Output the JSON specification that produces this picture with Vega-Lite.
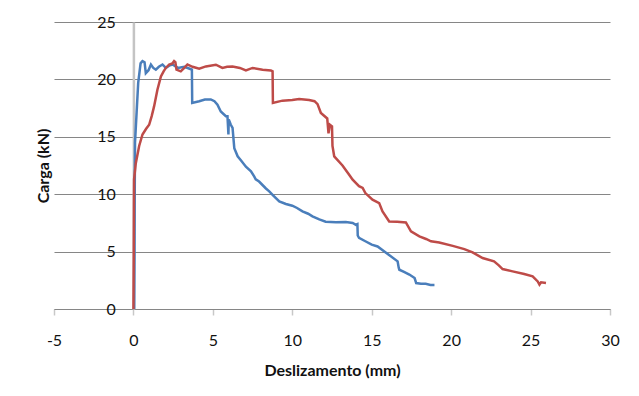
{
  "$schema": "https://vega.github.io/schema/vega-lite/v6.json",
  "width": 556,
  "height": 287,
  "autosize": "none",
  "padding": {"left": 54, "top": 22, "right": 29, "bottom": 87},
  "background": "white",
  "config": {
    "view": {"stroke": null},
    "font": "Lato"
  },
  "data": {"values": [
    {"s":"A","i":0,"x":0.05,"y":0},{"s":"A","i":1,"x":0.07,"y":5},{"s":"A","i":2,"x":0.08,"y":9.5},{"s":"A","i":3,"x":0.1,"y":14.5},{"s":"A","i":4,"x":0.3,"y":19.7},{"s":"A","i":5,"x":0.45,"y":21.4},{"s":"A","i":6,"x":0.57,"y":21.6},{"s":"A","i":7,"x":0.7,"y":21.5},{"s":"A","i":8,"x":0.78,"y":20.55},{"s":"A","i":9,"x":0.95,"y":20.8},{"s":"A","i":10,"x":1.1,"y":21.3},{"s":"A","i":11,"x":1.25,"y":21.0},{"s":"A","i":12,"x":1.41,"y":20.85},{"s":"A","i":13,"x":1.6,"y":21.1},{"s":"A","i":14,"x":1.83,"y":21.3},{"s":"A","i":15,"x":2.04,"y":21.0},{"s":"A","i":16,"x":2.25,"y":21.2},{"s":"A","i":17,"x":2.46,"y":21.3},{"s":"A","i":18,"x":2.8,"y":21.0},{"s":"A","i":19,"x":3.2,"y":21.1},{"s":"A","i":20,"x":3.5,"y":20.95},{"s":"A","i":21,"x":3.68,"y":20.85},{"s":"A","i":22,"x":3.7,"y":17.95},{"s":"A","i":23,"x":4.14,"y":18.1},{"s":"A","i":24,"x":4.5,"y":18.25},{"s":"A","i":25,"x":4.87,"y":18.25},{"s":"A","i":26,"x":5.1,"y":18.1},{"s":"A","i":27,"x":5.29,"y":17.8},{"s":"A","i":28,"x":5.5,"y":17.2},{"s":"A","i":29,"x":5.82,"y":16.8},{"s":"A","i":30,"x":5.92,"y":16.8},{"s":"A","i":31,"x":5.98,"y":15.2},{"s":"A","i":32,"x":6.0,"y":16.5},{"s":"A","i":33,"x":6.13,"y":16.05},{"s":"A","i":34,"x":6.24,"y":15.77},{"s":"A","i":35,"x":6.35,"y":14.0},{"s":"A","i":36,"x":6.56,"y":13.3},{"s":"A","i":37,"x":6.8,"y":12.9},{"s":"A","i":38,"x":7.08,"y":12.4},{"s":"A","i":39,"x":7.4,"y":12.0},{"s":"A","i":40,"x":7.6,"y":11.55},{"s":"A","i":41,"x":7.7,"y":11.3},{"s":"A","i":42,"x":7.91,"y":11.1},{"s":"A","i":43,"x":8.34,"y":10.5},{"s":"A","i":44,"x":8.55,"y":10.25},{"s":"A","i":45,"x":8.76,"y":9.95},{"s":"A","i":46,"x":9.18,"y":9.37},{"s":"A","i":47,"x":9.6,"y":9.15},{"s":"A","i":48,"x":10.0,"y":9.0},{"s":"A","i":49,"x":10.3,"y":8.8},{"s":"A","i":50,"x":10.64,"y":8.5},{"s":"A","i":51,"x":11.0,"y":8.3},{"s":"A","i":52,"x":11.27,"y":8.07},{"s":"A","i":53,"x":11.7,"y":7.8},{"s":"A","i":54,"x":12.1,"y":7.6},{"s":"A","i":55,"x":12.75,"y":7.55},{"s":"A","i":56,"x":13.37,"y":7.58},{"s":"A","i":57,"x":13.8,"y":7.5},{"s":"A","i":58,"x":14.0,"y":7.34},{"s":"A","i":59,"x":14.1,"y":7.4},{"s":"A","i":60,"x":14.12,"y":6.4},{"s":"A","i":61,"x":14.2,"y":6.2},{"s":"A","i":62,"x":14.6,"y":5.9},{"s":"A","i":63,"x":15.0,"y":5.6},{"s":"A","i":64,"x":15.37,"y":5.45},{"s":"A","i":65,"x":15.9,"y":4.9},{"s":"A","i":66,"x":16.2,"y":4.6},{"s":"A","i":67,"x":16.63,"y":4.15},{"s":"A","i":68,"x":16.7,"y":3.6},{"s":"A","i":69,"x":16.74,"y":3.42},{"s":"A","i":70,"x":17.0,"y":3.25},{"s":"A","i":71,"x":17.37,"y":3.0},{"s":"A","i":72,"x":17.7,"y":2.7},{"s":"A","i":73,"x":17.8,"y":2.26},{"s":"A","i":74,"x":18.1,"y":2.2},{"s":"A","i":75,"x":18.4,"y":2.2},{"s":"A","i":76,"x":18.7,"y":2.1},{"s":"A","i":77,"x":18.95,"y":2.1},
    {"s":"B","i":0,"x":0.0,"y":0},{"s":"B","i":1,"x":0.02,"y":5},{"s":"B","i":2,"x":0.03,"y":9},{"s":"B","i":3,"x":0.04,"y":11.3},{"s":"B","i":4,"x":0.15,"y":12.7},{"s":"B","i":5,"x":0.36,"y":14.2},{"s":"B","i":6,"x":0.57,"y":15.2},{"s":"B","i":7,"x":0.8,"y":15.7},{"s":"B","i":8,"x":0.99,"y":16.05},{"s":"B","i":9,"x":1.15,"y":16.8},{"s":"B","i":10,"x":1.3,"y":17.65},{"s":"B","i":11,"x":1.51,"y":19.1},{"s":"B","i":12,"x":1.73,"y":20.26},{"s":"B","i":13,"x":1.9,"y":20.7},{"s":"B","i":14,"x":2.04,"y":21.0},{"s":"B","i":15,"x":2.25,"y":21.3},{"s":"B","i":16,"x":2.46,"y":21.4},{"s":"B","i":17,"x":2.56,"y":21.6},{"s":"B","i":18,"x":2.64,"y":21.5},{"s":"B","i":19,"x":2.71,"y":20.85},{"s":"B","i":20,"x":2.98,"y":20.7},{"s":"B","i":21,"x":3.2,"y":21.0},{"s":"B","i":22,"x":3.4,"y":21.3},{"s":"B","i":23,"x":3.72,"y":21.1},{"s":"B","i":24,"x":4.14,"y":20.93},{"s":"B","i":25,"x":4.56,"y":21.13},{"s":"B","i":26,"x":5.19,"y":21.28},{"s":"B","i":27,"x":5.6,"y":21.0},{"s":"B","i":28,"x":5.9,"y":21.1},{"s":"B","i":29,"x":6.24,"y":21.13},{"s":"B","i":30,"x":6.7,"y":21.0},{"s":"B","i":31,"x":7.08,"y":20.78},{"s":"B","i":32,"x":7.5,"y":21.0},{"s":"B","i":33,"x":8.13,"y":20.85},{"s":"B","i":34,"x":8.65,"y":20.78},{"s":"B","i":35,"x":8.76,"y":20.7},{"s":"B","i":36,"x":8.78,"y":17.95},{"s":"B","i":37,"x":9.38,"y":18.15},{"s":"B","i":38,"x":10.0,"y":18.2},{"s":"B","i":39,"x":10.43,"y":18.3},{"s":"B","i":40,"x":11.06,"y":18.2},{"s":"B","i":41,"x":11.4,"y":18.1},{"s":"B","i":42,"x":11.59,"y":17.85},{"s":"B","i":43,"x":11.8,"y":17.07},{"s":"B","i":44,"x":12.2,"y":16.6},{"s":"B","i":45,"x":12.28,"y":15.3},{"s":"B","i":46,"x":12.37,"y":16.05},{"s":"B","i":47,"x":12.5,"y":15.9},{"s":"B","i":48,"x":12.53,"y":14.2},{"s":"B","i":49,"x":12.64,"y":13.3},{"s":"B","i":50,"x":13.16,"y":12.5},{"s":"B","i":51,"x":13.58,"y":11.7},{"s":"B","i":52,"x":13.8,"y":11.26},{"s":"B","i":53,"x":14.2,"y":10.7},{"s":"B","i":54,"x":14.43,"y":10.54},{"s":"B","i":55,"x":14.6,"y":10.1},{"s":"B","i":56,"x":15.05,"y":9.52},{"s":"B","i":57,"x":15.47,"y":9.23},{"s":"B","i":58,"x":15.68,"y":8.5},{"s":"B","i":59,"x":16.1,"y":7.63},{"s":"B","i":60,"x":16.6,"y":7.6},{"s":"B","i":61,"x":17.15,"y":7.54},{"s":"B","i":62,"x":17.47,"y":6.76},{"s":"B","i":63,"x":18.0,"y":6.32},{"s":"B","i":64,"x":18.42,"y":6.1},{"s":"B","i":65,"x":18.73,"y":5.9},{"s":"B","i":66,"x":19.25,"y":5.8},{"s":"B","i":67,"x":20.1,"y":5.5},{"s":"B","i":68,"x":20.83,"y":5.22},{"s":"B","i":69,"x":21.35,"y":4.93},{"s":"B","i":70,"x":21.98,"y":4.44},{"s":"B","i":71,"x":22.7,"y":4.15},{"s":"B","i":72,"x":23.0,"y":3.8},{"s":"B","i":73,"x":23.24,"y":3.48},{"s":"B","i":74,"x":23.87,"y":3.28},{"s":"B","i":75,"x":24.6,"y":3.05},{"s":"B","i":76,"x":25.13,"y":2.84},{"s":"B","i":77,"x":25.45,"y":2.4},{"s":"B","i":78,"x":25.56,"y":2.12},{"s":"B","i":79,"x":25.66,"y":2.32},{"s":"B","i":80,"x":25.97,"y":2.26}
  ]},
  "mark": {"type": "line", "strokeWidth": 2.5, "interpolate": "linear"},
  "encoding": {
    "x": {
      "field": "x", "type": "quantitative",
      "scale": {"domain": [-5, 30], "nice": false, "zero": false},
      "axis": {
        "title": "Deslizamento (mm)",
        "values": [-5, 0, 5, 10, 15, 20, 25, 30],
        "labelExpr": "'' + datum.value",
        "grid": false,
        "labelFlush": false,
        "labelFont": "Lato", "labelFontSize": 16, "labelColor": "#111111",
        "labelPadding": 17,
        "tickColor": "#c8c8c8", "tickSize": 6, "tickWidth": 1.5,
        "domainColor": "#868686", "domainWidth": 1,
        "titleFont": "Lato", "titleFontSize": 16, "titleFontWeight": "bold", "titleColor": "#111111",
        "titlePadding": 14
      }
    },
    "y": {
      "field": "y", "type": "quantitative",
      "scale": {"domain": [0, 25], "nice": false},
      "axis": {
        "title": "Carga (kN)",
        "values": [0, 5, 10, 15, 20, 25],
        "offset": -79.4,
        "ticks": false,
        "grid": true, "gridColor": "#868686", "gridWidth": 1,
        "domainColor": "#c4c4c4", "domainWidth": 2.5,
        "labelFont": "Lato", "labelFontSize": 16, "labelColor": "#111111",
        "labelPadding": 18,
        "titleFont": "Lato", "titleFontSize": 16, "titleFontWeight": "bold", "titleColor": "#111111",
        "titlePadding": 45
      }
    },
    "color": {
      "field": "s", "type": "nominal",
      "scale": {"domain": ["A", "B"], "range": ["#4a7ebb", "#be4b48"]},
      "legend": null
    },
    "order": {"field": "i", "type": "quantitative"}
  }
}
